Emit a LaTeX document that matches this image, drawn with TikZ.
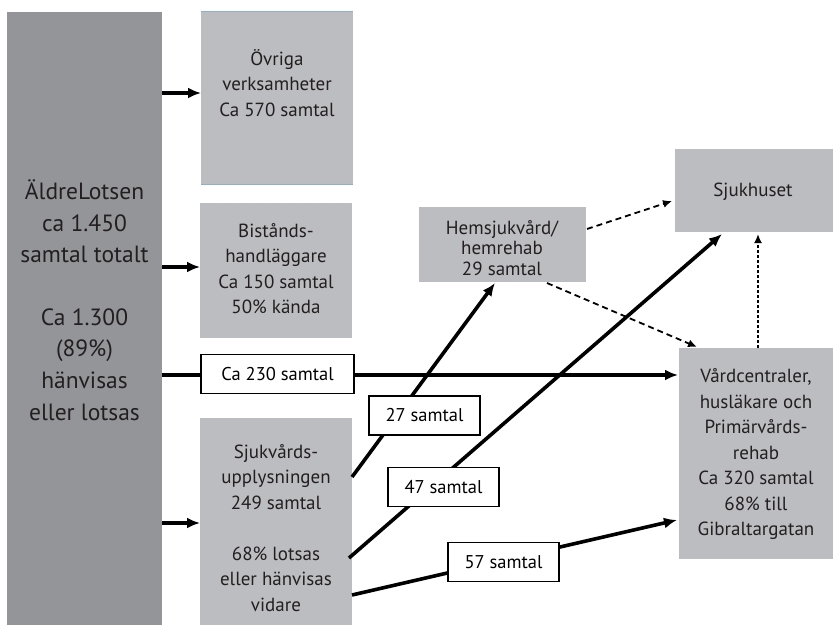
\documentclass[tikz,border=0pt]{standalone}
\usepackage{fontspec}
\setmainfont{PT Sans}
\usetikzlibrary{arrows.meta}
\definecolor{darkbox}{HTML}{939598}
\definecolor{lightbox}{HTML}{BCBDC0}
\definecolor{txt}{HTML}{231F20}
\definecolor{edgeblue}{HTML}{8FB0C8}
\begin{document}
\begin{tikzpicture}[x=1pt,y=-1pt,
  gbox/.style={fill=lightbox, draw=none, inner sep=0pt, anchor=north west},
  dbox/.style={fill=darkbox, draw=none, inner sep=0pt, anchor=north west},
  btxt/.style={align=center, text=txt, inner sep=0pt, font=\fontsize{19}{25.5}\selectfont},
  bigtxt/.style={align=center, text=txt, inner sep=0pt, font=\fontsize{23.5}{31.5}\selectfont},
  lbl/.style={draw=black, line width=1.2pt, fill=white, inner sep=0pt, minimum height=39pt, font=\fontsize{18.5}{20}\selectfont},
  thickarrow/.style={line width=3.6pt, -{Latex[length=13pt,width=11pt]}},
  dasharrow/.style={line width=1.8pt, dash pattern=on 6pt off 4pt, -{Latex[length=9pt,width=8pt]}},
  dotarrow/.style={line width=1.8pt, dash pattern=on 3pt off 2pt, -{Latex[length=9pt,width=8pt]}}
]
\useasboundingbox (0,0) rectangle (833,625);
% boxes
\node[dbox, minimum width=155pt, minimum height=613pt] (big) at (7,12) {};
\node[gbox, minimum width=152pt, minimum height=173pt] (ovr) at (201,11) {};
\draw[edgeblue, line width=0.8pt] (ovr.north west) -- (ovr.north east);
\draw[edgeblue, line width=0.8pt] (ovr.south west) -- (ovr.south east);
\node[gbox, minimum width=152pt, minimum height=135pt] (bist) at (200,203) {};
\node[gbox, minimum width=152pt, minimum height=207pt] (sjuk) at (200,418) {};
\node[gbox, minimum width=167pt, minimum height=75pt] (hem) at (419,207) {};
\node[gbox, minimum width=158pt, minimum height=83pt] (hus) at (675,149) {};
\node[gbox, minimum width=154pt, minimum height=211pt] (vard) at (679,348) {};
% texts
\node[bigtxt] (bigt) at (84.5,300) {ÄldreLotsen\\ca 1.450\\samtal totalt\\\mbox{}\\Ca 1.300\\(89\%)\\hänvisas\\eller lotsas};
\node[btxt] (ovrt) at (277,83) {Övriga\\verksamheter\\Ca 570 samtal};
\node[btxt] (bistt) at (276,268.5) {Bistånds-\\handläggare\\Ca 150 samtal\\50\% kända};
\node[btxt] (sjukt) at (276,528) {Sjukvårds-\\upplysningen\\249 samtal\\\mbox{}\\68\% lotsas\\eller hänvisas\\vidare};
\node[btxt, font=\fontsize{19}{20.5}\selectfont] (hemt) at (502,248) {Hemsjukvård/\\hemrehab\\29 samtal};
\node[btxt] (hust) at (753,192) {Sjukhuset};
\node[btxt] (vardt) at (756,454.5) {Vårdcentraler,\\husläkare och\\Primärvårds-\\rehab\\Ca 320 samtal\\68\% till\\Gibraltargatan};
% level coordinates
\coordinate (l1) at (0,93);
\coordinate (l2) at (0,267);
\coordinate (l3) at (0,523);
\coordinate (l4) at (0,375);
\coordinate (a27s) at (352,477);
\coordinate (a27e) at (495,283);
\coordinate (a47s) at (349,558);
\coordinate (a47e) at (722,234);
\coordinate (a57s) at (352,595);
\coordinate (a57e) at (677,520);
\coordinate (d1s) at (587,229);
\coordinate (d1e) at (672,201);
\coordinate (d2s) at (547,283);
\coordinate (d2e) at (697,347);
\coordinate (d3s) at (758,348);
\coordinate (d3e) at (758,234);
% arrows from big box
\draw[thickarrow] (big.east |- l1) -- (ovr.west |- l1);
\draw[thickarrow] (big.east |- l2) -- (bist.west |- l2);
\draw[thickarrow] (big.east |- l3) -- (sjuk.west |- l3);
\draw[thickarrow] (big.east |- l4) -- ([xshift=-1pt]vard.west |- l4);
% arrows from Sjukvardsupplysningen
\draw[thickarrow] (a27s) -- (a27e);
\draw[thickarrow] (a47s) -- (a47e);
\draw[thickarrow] (a57s) -- (a57e);
% dashed / dotted
\draw[dasharrow] (d1s) -- (d1e);
\draw[dasharrow] (d2s) -- (d2e);
\draw[dotarrow] (d3s) -- (d3e);
% labels
\node[lbl, minimum width=153pt] (l230) at (277.5,374) {Ca 230 samtal};
\node[lbl, minimum width=111pt] (l27) at (424.5,415.5) {27 samtal};
\node[lbl, minimum width=111pt] (l47) at (443.5,487) {47 samtal};
\node[lbl, minimum width=111pt] (l57) at (503.5,562) {57 samtal};
\end{tikzpicture}
\end{document}
